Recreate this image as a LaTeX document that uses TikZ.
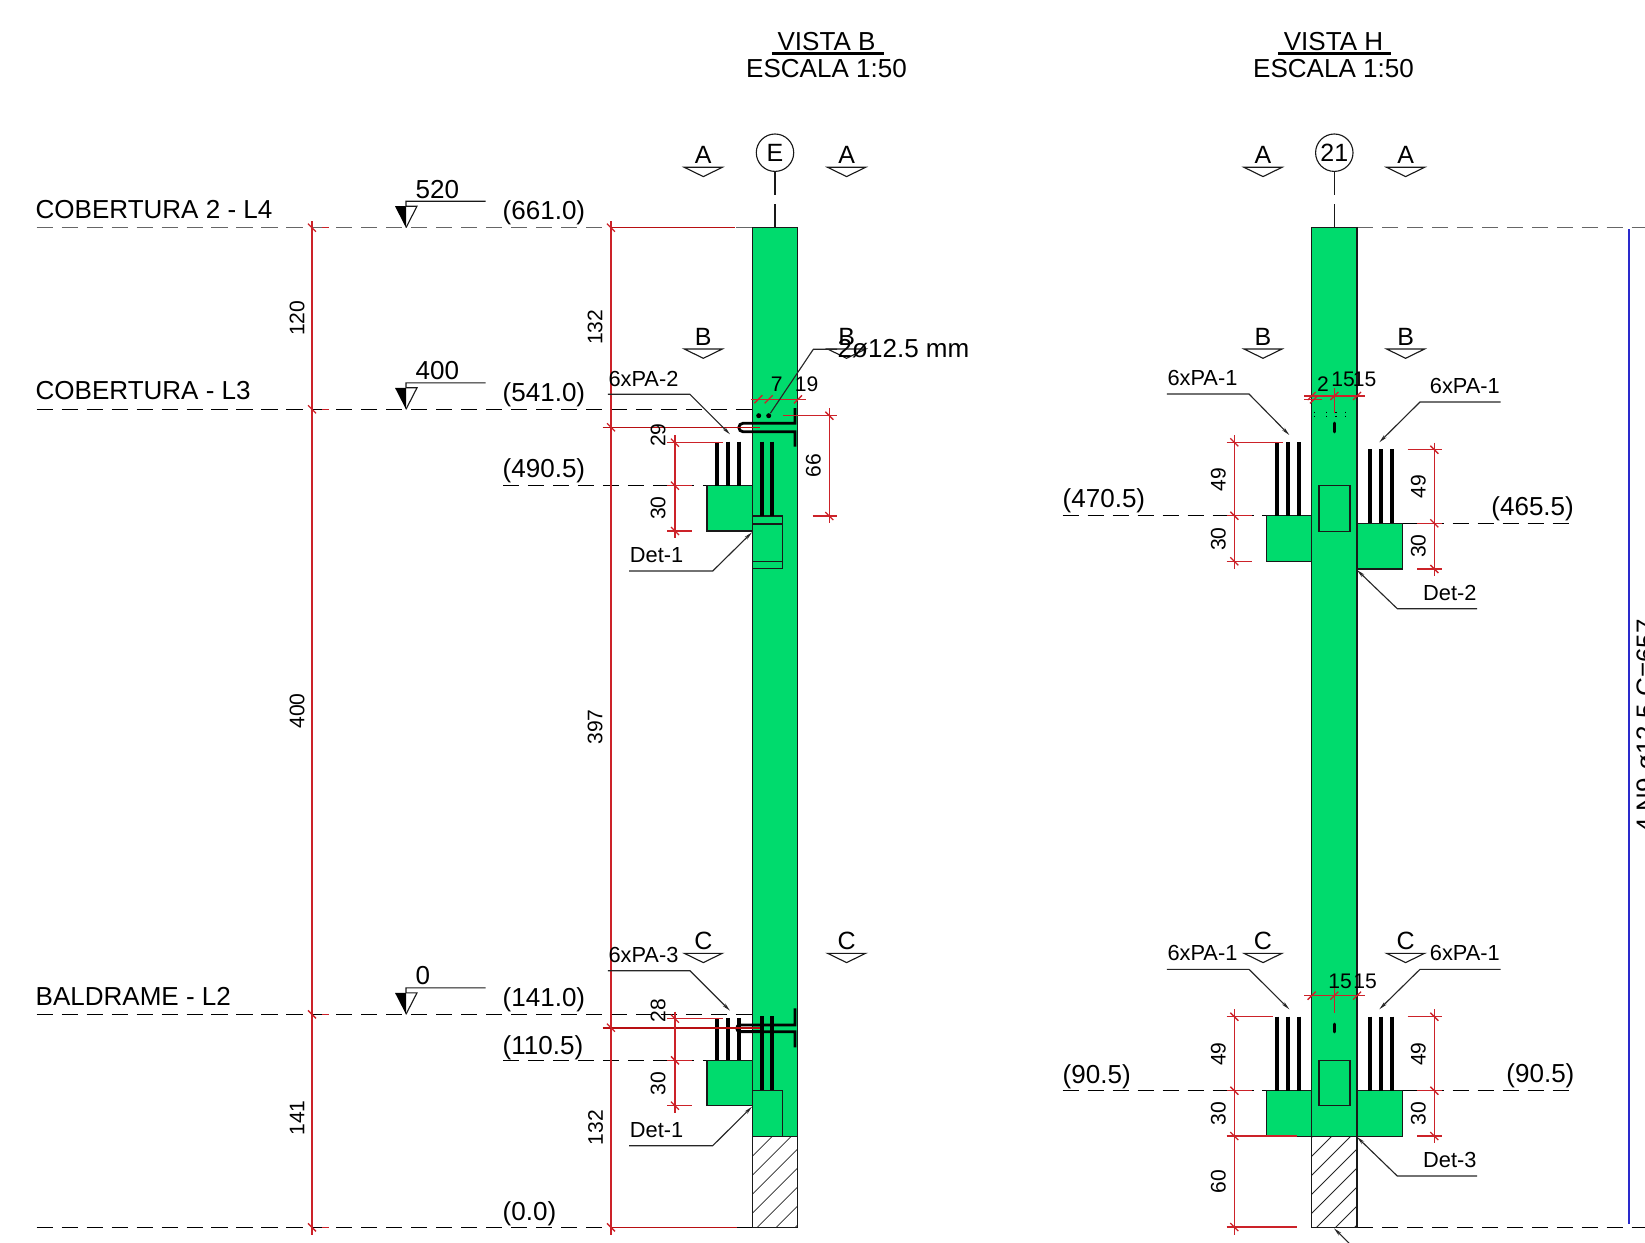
\documentclass[tikz,border=0pt]{standalone}
\usepackage{fontspec}
\setmainfont{Liberation Sans}
\usepackage{tikz}
\usetikzlibrary{arrows.meta}
\definecolor{colgreen}{HTML}{00DB6D}
\definecolor{dimred}{HTML}{CC2229}
\definecolor{deepred}{HTML}{B80F12}
\definecolor{barblue}{HTML}{2A2ACC}
\tikzset{
  bigtext/.style={inner sep=0pt,xshift=-.01cm,font=\fontsize{7.4}{8}\selectfont},
  sectext/.style={inner sep=0pt,anchor=base,font=\fontsize{7.1}{8}\selectfont},
  leadtext/.style={inner sep=0pt,anchor=base west,xshift=-.015cm,font=\fontsize{6.2}{7}\selectfont},
  dimtext/.style={inner sep=0pt,font=\fontsize{6}{7}\selectfont},
  thinline/.style={line width=.32pt,draw=black!90},
  levelline/.style={line width=.34pt,draw=black,dash pattern=on 4.6pt off 2.5pt},
  column/.style={line width=.42pt,draw=black!90,fill=colgreen},
  rebar/.style={line width=1.15pt,draw=black},
  dimline/.style={line width=.38pt,draw=dimred},
  dimtick/.style={line width=.38pt,draw=dimred},
  leader/.style={line width=.32pt,draw=black!85},
  leadarrow/.style={leader,-{Stealth[length=2.4pt,width=1pt]}},
  hatchline/.style={line width=.24pt,draw=black!85},
  secmark/.pic={
    \draw[thinline] (-19,0) -- (19,0) -- (0,9.3) -- cycle;
    \node[sectext] (-lab) at (0,-3.8) {#1};
  },
  lvlmark/.pic={
    \fill[black] (0,0) -- (-11,-21.5) -- (0,-21.5) -- cycle;
    \draw[thinline] (0,0) -- (11,-21.5) -- (0,-21.5) -- (0,-26.4) -- (79.7,-26.4);
    \node[bigtext,anchor=base west] (-lab) at (10,-29.4) {#1};
  }
}
\begin{document}
\begin{tikzpicture}[x=0.01cm,y=-0.01cm]
\useasboundingbox (0,0) rectangle (1645,1242);
\clip (0,0) rectangle (1645,1242);

% titles
\foreach \nm/\cx/\lab/\xa/\xb in {vistaB/827.5/VISTA B/771.8/883.6,vistaH/1334.5/VISTA H/1278/1391}{
  \node[bigtext,anchor=base] (\nm) at (\cx,50) {\lab};
  \node[bigtext,anchor=base] (\nm esc) at (\cx,77.7) {ESCALA 1:50};
  \draw[line width=.7pt] (\xa,53.3) -- (\xb,53.3);
}

% level lines
\draw[levelline,draw=black!60,line width=.42pt] (36.7,227.7) -- (752,227.7);
\draw[levelline,draw=black!60,line width=.42pt] (1357,227.7) -- (1645,227.7);
\draw[levelline] (36.7,409.3) -- (752,409.3);
\draw[levelline] (36.7,1014.3) -- (752,1014.3);
\draw[levelline] (36.7,1227.3) -- (752,1227.3);
\draw[levelline] (1357,1227.3) -- (1645,1227.3);
\foreach \xa/\xb/\y in {503/707/485.7,503/752/1060.3,1062.7/1266/515.7,1402.7/1574.3/523.3,1062.7/1266/1090.7,1402.7/1574.3/1090.7}
  \draw[levelline] (\xa,\y) -- (\xb,\y);

\foreach \y/\lab [count=\i] in {218/COBERTURA 2 - L4,399.5/COBERTURA - L3,1005/BALDRAME - L2}
  \node[bigtext,anchor=base west] (lvl\i) at (36,\y) {\lab};
\pic (markFour) at (406,227.7) {lvlmark=520};
\pic (markThree) at (406,409.3) {lvlmark=400};
\pic (markTwo) at (406,1014.3) {lvlmark=0};

\foreach \x/\y/\lab [count=\i] in {503/219/(661.0),503/401.7/(541.0),503/477/(490.5),503/1006/(141.0),503/1054/(110.5),503/1220/(0.0),1063/507.7/(470.5),1491.7/515/(465.5),1063/1083/(90.5),1506.7/1082.5/(90.5)}
  \node[bigtext,anchor=base west] (elev\i) at (\x,\y) {\lab};

% grid bubbles
\foreach \nm/\x/\lab in {axE/775/E,axN/1334.3/21}{
  \node[draw=black!90,line width=.32pt,circle,inner sep=0pt,minimum size=.374cm,font=\fontsize{7.1}{8}\selectfont] (\nm) at (\x,152.7) {\raisebox{-.45pt}{\lab}};
  \coordinate (\nm gap) at (\x,204);
  \draw[thinline] (\nm.south) -- (\x,195);
  \draw[thinline] (\nm gap) -- (\x,228);
}

% section marks
\pic (secAa) at (703.3,167.3) {secmark=A};
\pic (secAb) at (846.6,167.3) {secmark=A};
\pic (secAc) at (1263,167.3) {secmark=A};
\pic (secAd) at (1405.6,167.3) {secmark=A};
\pic (secBa) at (703.3,349) {secmark=B};
\pic (secBb) at (846.6,349) {secmark=B};
\pic (secBc) at (1263,349) {secmark=B};
\pic (secBd) at (1405.6,349) {secmark=B};
\pic (secCa) at (703.3,953.3) {secmark=C};
\pic (secCb) at (846.6,953.3) {secmark=C};
\pic (secCc) at (1263,953.3) {secmark=C};
\pic (secCd) at (1405.6,953.3) {secmark=C};

% columns
\foreach \xl/\xr in {752.3/797.7,1311.7/1357}{
  \draw[column] (\xl,227.7) rectangle (\xr,1136.3);
  \begin{scope}
    \clip (\xl,1136.3) rectangle (\xr,1227.3);
    \foreach \i in {-90,-71,...,50}
      \draw[hatchline] ({\xl+\i},1227.3) -- ++(91,-91);
  \end{scope}
  \draw[thinline,line width=.42pt] (\xl,1136.3) rectangle (\xr,1227.3);
}

% corbels and pockets
\foreach \xa/\ya/\xb/\yb in {707/485.7/752.3/531,707/1060.3/752.3/1105.7,752.3/1090.3/782.7/1136.3,1266.3/515.7/1311.7/561.3,1357/523.3/1402.7/569,1319/485.7/1350/531.3,1266.3/1090.7/1311.7/1136.3,1357/1090.7/1402.7/1136.3,1319/1060.3/1350/1105.7}
  \draw[column] (\xa,\ya) rectangle (\xb,\yb);
\draw[thinline,line width=.42pt] (752.3,516) rectangle (782.7,568.7);
\draw[thinline,line width=.42pt] (752.3,524) -- (782.7,524) (752.3,561.3) -- (782.7,561.3);

% bars
\foreach \x/\ya/\yb in {717.3/441.7/485.7,728/441.7/485.7,739/441.7/485.7,762.3/441.7/516,772.3/441.7/516,
  717.3/1018.3/1060.3,728/1018.3/1060.3,739/1018.3/1060.3,762.3/1016/1090.3,772.3/1016/1090.3,
  1276.7/442.3/515.7,1287.7/442.3/515.7,1298.7/442.3/515.7,1370/449.3/523.3,1381.3/449.3/523.3,1392.3/449.3/523.3,
  1276.7/1016.7/1090.7,1287.7/1016.7/1090.7,1298.7/1016.7/1090.7,1370/1016.7/1090.7,1381.3/1016.7/1090.7,1392.3/1016.7/1090.7}
  \draw[rebar] (\x,\ya) -- (\x,\yb);
\draw[rebar,line width=.8pt] (795,408) -- (795,423.3) -- (743,423.3) arc[start angle=270,end angle=90,radius=4.2] -- (795,431.7) -- (795,446.7);
\draw[rebar,line width=.8pt] (795,1008.3) -- (795,1025) -- (740,1025) arc[start angle=270,end angle=90,radius=3.3] -- (795,1031.7) -- (795,1047.3);
\foreach \x/\ya/\yb in {1334.3/423/432,1334.3/1024/1032}
  \draw[rebar,line cap=round,line width=.8pt] (\x,\ya) -- (\x,\yb);
\node[circle,fill=black,inner sep=0pt,minimum size=.05cm] (dotA) at (758.7,415.7) {};
\node[circle,fill=black,inner sep=0pt,minimum size=.05cm] (dotB) at (768.7,415.7) {};
\foreach \x in {1314.3,1326.3,1336,1345.7}
  \draw[line width=.35pt,dash pattern=on .5pt off .7pt] (\x,411.5) -- (\x,417);

% dimensions
\draw[dimline] (312,221) -- (312,1235);
\draw[dimline] (611,221) -- (611,1235);
\foreach \y in {227.7,409.3,1014.3,1227.3}
  \draw[dimline] (322,\y) -- (328.6,\y);
\draw[dimline,draw=deepred] (611,227.7) -- (735,227.7);
\draw[dimline,draw=deepred] (611,1227.3) -- (737,1227.3);
\draw[dimline,draw=deepred,line width=.42pt] (602.7,427.3) -- (760,427.3);
\draw[dimline,draw=deepred,line width=.5pt] (602.7,1027.7) -- (760,1027.7);
\foreach \xa/\ya/\xb/\yb in {
  675/435/675/538.3,667.3/442.7/723.3/442.7,667.3/485.7/691.7/485.7,667.3/531/691.7/531,
  829.3/408/829.3/523,783/415.7/837/415.7,812.7/516/837/516,750.7/399.3/805.7/399.3,
  675/1011.7/675/1112.7,667.3/1018.7/723.3/1018.7,667.3/1060.3/691.7/1060.3,667.3/1105.7/691.7/1105.7,
  1234.3/435/1234.3/569.3,1226.7/442.3/1282.7/442.3,1226.7/515.7/1251.7/515.7,1226.7/561.3/1251.7/561.3,
  1434.3/442.7/1434.3/576,1407.7/449.7/1442.3/449.7,1417.3/523.3/1442.3/523.3,1417.3/569/1442.3/569,
  1304/396/1365/396,1304/399.3/1321.7/399.3,1334.3/388/1334.3/412.7,
  1304/995.7/1365/995.7,1334.3/988.3/1334.3/1012.7,
  1234.3/1009.3/1234.3/1235,1226.7/1016.7/1273/1016.7,1226.7/1090.7/1251.7/1090.7,1226.7/1136/1296.7/1136,1226.7/1227/1296.7/1227,
  1434.3/1009.3/1434.3/1142.7,1407.7/1016.7/1442.3/1016.7,1417.3/1090.7/1442.3/1090.7,1417.3/1136/1442.3/1136}
  \draw[dimline] (\xa,\ya) -- (\xb,\yb);
% ticks on vertical dimensions
\foreach \x/\y in {312/227.7,312/409.3,312/1014.3,312/1227.3,611/227.7,611/427.3,611/1027.7,611/1227.3,
  675/442.7,675/485.7,675/531,829.3/415.7,829.3/516,675/1018.7,675/1060.3,675/1105.7,
  1234.3/442.3,1234.3/515.7,1234.3/561.3,1434.3/449.7,1434.3/523.3,1434.3/569,
  1234.3/1016.7,1234.3/1090.7,1234.3/1136,1234.3/1227,1434.3/1016.7,1434.3/1090.7,1434.3/1136}
  \draw[dimtick] (\x-4,\y-4) -- (\x+4,\y+4);
% ticks on horizontal dimensions
\foreach \x/\y in {758.3/399.3,768.7/399.3,798/399.3,1311.7/396,1314/399.3,1334.3/396,1357/396,1311.7/995.7,1334.3/995.7,1357/995.7}
  \draw[dimtick] (\x-4,\y+4) -- (\x+4,\y-4);

% dimension labels, rotated
\foreach \x/\y/\lab [count=\i] in {297/318.3/120,297/711/400,297/1118/141,595/327.3/132,595/727/397,595.7/1127.7/132,
  658/435/29,658/508/30,813.3/465.7/66,658/1010.7/28,658/1083.3/30,
  1218.3/479.3/49,1218.3/539/30,1418.3/486.7/49,1418.3/546/30,
  1218.3/1054/49,1218.3/1113.3/30,1218.3/1181.7/60,1418.3/1054/49,1418.3/1113.3/30}
  \node[dimtext,rotate=90] (dv\i) at (\x,\y) {\lab};
% dimension labels, flat
\foreach \x/\y/\lab [count=\i] in {776.7/391.7/7,806.7/391.7/19,1323/391.5/2,1343/386.7/15,1364.5/386.7/15,1340/988.3/15,1365/988.3/15}
  \node[dimtext,anchor=base] (dh\i) at (\x,\y) {\lab};

% leaders
\foreach \nm/\lab/\px/\py/\ank/\kx/\ky/\tx/\ty in {
  paTwo/6xPA-2/609.3/386/west/690/394.3/730/434.3,
  detOneT/Det-1/630.7/562.7/west/712.7/571/752/532.3,
  paThree/6xPA-3/609.3/962.7/west/690/970.7/730/1010.7,
  detOneB/Det-1/630.7/1137.3/west/712.7/1145.7/752/1106.7,
  paOneA/6xPA-1/1168.3/385.7/west/1249/394/1289.3/435,
  paOneB/6xPA-1/1430.7/393.3/east/1420/402/1379.3/442.3,
  detTwo/Det-2/1424/600/east/1397.3/608.7/1357/570,
  paOneC/6xPA-1/1168.3/960.7/west/1249/969.3/1289.3/1009.3,
  paOneD/6xPA-1/1430.7/960.7/east/1420/969.3/1379.3/1009.3,
  detThree/Det-3/1424/1167.3/east/1397.3/1176/1357/1137}{
  \node[leadtext] (\nm) at (\px,\py) {\lab};
  \coordinate (\nm-knee) at (\kx,\ky);
  \coordinate (\nm-tip) at (\tx,\ty);
  \draw[leadarrow] (\nm.south \ank |- \nm-knee) -- (\nm-knee) -- (\nm-tip);
}
\node[bigtext,anchor=base west] (barNote) at (838,357.3) {2ø12.5 mm};
\coordinate (barNote-knee) at (813.3,349.3);
\draw[leader] (barNote.west |- barNote-knee) -- (barNote-knee) -- (dotB);
\coordinate (pileTip) at (1334,1228.3);
\coordinate (pileEnd) at (1352,1246);
\draw[leadarrow] (pileEnd) -- (pileTip);

% main bar
\draw[line width=.6pt,draw=barblue] (1629.3,229) -- (1629.3,1224.3);
\node[bigtext,anchor=base,rotate=90] (mainBar) at (1655.6,726) {4 N9 ø12.5 C=657};
\end{tikzpicture}
\end{document}
